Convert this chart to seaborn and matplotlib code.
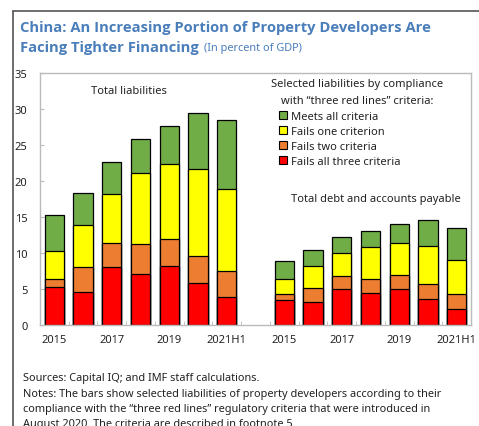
import matplotlib
matplotlib.use("Agg")
import matplotlib.pyplot as plt
import seaborn as sns
import pandas as pd
import numpy as np
from matplotlib.patches import Patch
from matplotlib.lines import Line2D

sns.set_style("white")
plt.rcParams['font.family'] = ['Noto Sans', 'DejaVu Sans']

years = ["2015", "2016", "2017", "2018", "2019", "2020", "2021H1"]
tick_labels = ["2015", "", "2017", "", "2019", "", "2021H1"]
series = ["Meets all criteria", "Fails one criterion", "Fails two criteria", "Fails all three criteria"]
colors = ["#70AD47", "#FFFF00", "#ED7D31", "#FF0000"]

# Total liabilities (percent of GDP), segments
tl_red    = [5.2, 4.6, 8.0, 7.0, 8.2, 5.8, 3.9]
tl_orange = [1.2, 3.4, 3.3, 4.2, 3.7, 3.8, 3.6]
tl_yellow = [3.9, 5.9, 6.9, 9.9, 10.4, 12.0, 11.4]
tl_green  = [4.9, 4.4, 4.4, 4.7, 5.3, 7.9, 9.5]

# Total debt and accounts payable, segments
td_red    = [3.5, 3.1, 5.0, 4.4, 5.0, 3.6, 2.2]
td_orange = [0.8, 2.0, 1.8, 1.9, 1.9, 2.0, 2.0]
td_yellow = [2.1, 3.0, 3.2, 4.5, 4.5, 5.3, 4.8]
td_green  = [2.4, 2.3, 2.2, 2.2, 2.6, 3.7, 4.4]

left_keys = ["L" + y for y in years]
right_keys = ["R" + y for y in years]
order = left_keys + ["gap"] + right_keys

rows = []
for keys, segs in [(left_keys, [tl_red, tl_orange, tl_yellow, tl_green]),
                   (right_keys, [td_red, td_orange, td_yellow, td_green])]:
    cum = np.cumsum(np.array(segs), axis=0)  # red, +orange, +yellow, +green
    for i, k in enumerate(keys):
        rows.append({"slot": k, "red": cum[0][i], "orange": cum[1][i],
                     "yellow": cum[2][i], "green": cum[3][i]})
df = pd.DataFrame(rows)

fig = plt.figure(figsize=(4.79, 4.27), dpi=100)
ax = fig.add_axes([40/479, 1-325.7/427, 431/479, 251.7/427])

for col, c in zip(["green", "yellow", "orange", "red"], colors):
    sns.barplot(data=df, x="slot", y=col, order=order, color=c, width=0.67,
                edgecolor="black", linewidth=0.9, saturation=1, ax=ax)

fs = 8
tc = "#222222"
ax.set_xlim(-0.5, 14.5)
ax.set_ylim(0, 35)
ax.set_yticks(np.arange(0, 36, 5))
ax.set_xticks(range(15))
ax.set_xticklabels(tick_labels + [""] + tick_labels)
ax.set_xticks(np.arange(0.5, 14.5, 1), minor=True)
ax.tick_params(axis="x", which="major", length=0, pad=7, labelsize=fs, colors=tc)
ax.tick_params(axis="x", which="minor", length=3, direction="in", color="#BBBBBB", bottom=True)
ax.tick_params(axis="y", length=3, direction="in", color="#BBBBBB", pad=9, labelsize=fs, left=True, labelcolor=tc)
ax.set_xlabel("")
ax.set_ylabel("")
for s in ax.spines.values():
    s.set_color("#BBBBBB")
    s.set_linewidth(1.0)

ax.text(2.6, 32.5, "Total liabilities", ha="center", va="center", fontsize=fs, color=tc)
ax.text(11.2, 17.6, "Total debt and accounts payable", ha="center", va="center", fontsize=fs, color=tc)

# Legend title (centered) and entries
fig.text(357/479, 1-85/427, "Selected liabilities by compliance", fontsize=fs, color=tc, ha="center", va="center")
fig.text(357/479, 1-102/427, "with \u201cthree red lines\u201d criteria:", fontsize=fs, color=tc, ha="center", va="center")
handles = [Patch(facecolor=c, edgecolor="black", linewidth=0.8, label=s) for s, c in zip(series, colors)]
leg = fig.legend(handles=handles, loc="upper left", bbox_to_anchor=(279/479, 1-112/427),
                 frameon=False, fontsize=fs, handlelength=0.75, handleheight=0.75,
                 handletextpad=0.3, labelspacing=0.35, borderpad=0.0, borderaxespad=0.0)
for t in leg.get_texts():
    t.set_color(tc)

# Frame
fig.add_artist(Line2D([13/479, 13/479], [0, 1-12/427], color="#555555", lw=1.2, transform=fig.transFigure))
fig.add_artist(Line2D([13/479, 1], [1-12/427, 1-12/427], color="#555555", lw=1.2, transform=fig.transFigure))

tcol = "#4A7EBB"
fig.text(20/479, 1-28/427, "China: An Increasing Portion of Property Developers Are",
         fontsize=10.6, fontweight="bold", family="Open Sans", color=tcol, va="center", ha="left")
fig.text(20/479, 1-48/427, "Facing Tighter Financing",
         fontsize=10.6, fontweight="bold", family="Open Sans", color=tcol, va="center", ha="left")
fig.text(204/479, 1-48/427, "(In percent of GDP)", fontsize=7.9, color=tcol, va="center", ha="left")

notes = ["Sources: Capital IQ; and IMF staff calculations.",
         "Notes: The bars show selected liabilities of property developers according to their",
         "compliance with the \u201cthree red lines\u201d regulatory criteria that were introduced in",
         "August 2020. The criteria are described in footnote 5."]
for i, line in enumerate(notes):
    fig.text(23/479, 1-(379 + 15.3*i)/427, line, fontsize=7.9, color=tc, va="center", ha="left")

fig.savefig("out.png", dpi=100)
